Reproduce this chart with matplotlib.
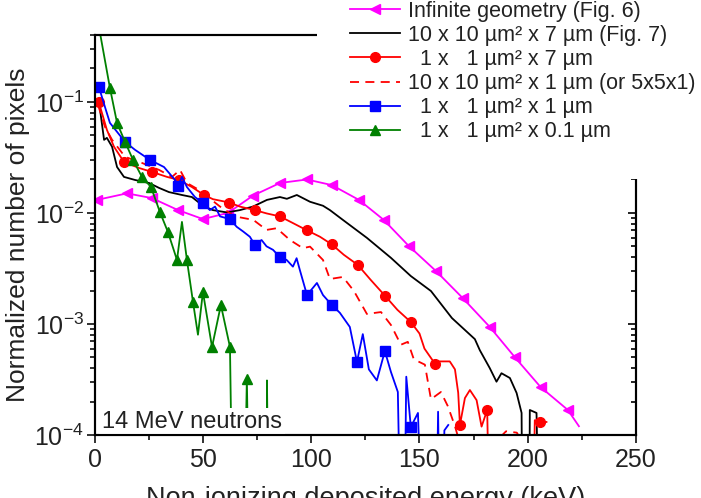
import matplotlib
matplotlib.use("Agg")
import matplotlib.pyplot as plt
from matplotlib.patches import Rectangle

plt.rcParams["font.family"] = ["Liberation Sans", "DejaVu Sans"]
plt.rcParams["mathtext.fontset"] = "custom"
plt.rcParams["mathtext.rm"] = "Liberation Sans"

# -------------------------
# Infinite geometry (Fig. 6)
# -------------------------
mag_x = [0.9, 14.8, 26.3, 38.4, 49.9, 61.5, 73.0, 85.5, 98.0, 109.5, 122.0,
         133.5, 145.0, 157.6, 170.0, 182.5, 194.0, 206.0, 218.6, 223.7]
mag_y = [0.0131, 0.0150, 0.0136, 0.0106, 0.0088, 0.0100, 0.0143, 0.0186,
         0.0200, 0.0178, 0.0131, 0.00865, 0.00505, 0.00300, 0.00171,
         0.00094, 0.000504, 0.00027, 0.000168, 0.000120]
mag_mk = mag_x[:-1]

# -------------------------
# 10 x 10 um2 x 7 um (Fig. 7)
# -------------------------
blk_x = [1.8, 4.2, 5.5, 7.9, 10.2, 13.4, 18.5, 25.0, 29.6, 34.2, 40.2, 44.8,
         49.9, 54.5, 61.0, 67.0, 73.0, 79.5, 85.5, 88.7, 93.3, 99.4, 105.4,
         108.6, 114.6, 125.7, 136.8, 146.0, 155.3, 165.0, 175.6, 177.9, 182.5,
         185.6, 187.9, 191.8, 194.9, 197.2, 198.0, 200.5, 201.0, 204.1, 206.4]
blk_y = [0.102, 0.0455, 0.0474, 0.0394, 0.0259, 0.0211, 0.0198, 0.0186,
         0.0168, 0.0154, 0.0145, 0.0139, 0.0116, 0.0106, 0.0101, 0.0106,
         0.0114, 0.0131, 0.0139, 0.0134, 0.0145, 0.0126, 0.0116, 0.0106,
         0.00865, 0.00596, 0.00394, 0.0027, 0.00198, 0.00113, 0.00073,
         0.00058, 0.00040, 0.000302, 0.00036, 0.000326, 0.000239, 0.000158,
         1e-6, 1e-6, 0.000168, 0.000158, 1e-6]

# -------------------------
# 1 x 1 um2 x 7 um
# -------------------------
red_x = [1.7, 3.2, 5.5, 8.8, 13.4, 20.3, 26.3, 33.3, 38.8, 44.8, 50.4, 54.5,
         62.1, 67.0, 73.9, 79.3, 85.5, 91.5, 97.8, 104.0, 109.5, 115.0, 121.5,
         127.4, 134.0, 139.8, 146.0, 150.0, 152.3, 157.1, 159.4, 164.0, 166.4,
         167.9, 168.7, 171.0, 173.3, 176.4, 178.7, 181.3, 183.5, 201.5, 203.3,
         205.6, 208.7]
red_y = [0.1006, 0.0796, 0.056, 0.0394, 0.0288, 0.0254, 0.0234, 0.0211,
         0.0198, 0.0171, 0.0145, 0.0133, 0.0124, 0.0114, 0.0106, 0.0099,
         0.0093, 0.0081, 0.0070, 0.0061, 0.0052, 0.0042, 0.0034, 0.0025,
         0.0018, 0.00134, 0.00104, 0.00082, 0.00060, 0.00044, 0.00046,
         0.00046, 0.00039, 0.00024, 0.000123, 0.000215, 0.000254, 0.000206,
         0.000119, 0.000168, 1e-6, 1e-6, 0.000136, 0.000131, 0.000131]
red_mk = [1.7, 13.4, 26.3, 38.8, 50.4, 62.1, 73.9, 85.5, 97.8, 109.5, 121.5,
          134.0, 146.0, 157.1, 168.7, 181.3, 205.6]

# -------------------------
# 10 x 10 um2 x 1 um (dashed)
# -------------------------
dsh_x = [1.4, 4.6, 7.9, 13.9, 21.7, 29.6, 35.6, 39.3, 42.5, 48.1, 57.8, 64.7,
         73.2, 79.3, 84.0, 90.1, 96.1, 99.4, 105.4, 108.6, 114.6, 119.7, 125.7,
         132.2, 136.8, 141.4, 144.6, 147.4, 152.5, 155.3, 159.9, 163.1, 166.4,
         169.0, 186.0, 190.0, 195.0, 197.0]
dsh_y = [0.094, 0.0596, 0.0455, 0.0320, 0.0282, 0.0244, 0.0211, 0.0244,
         0.0186, 0.0161, 0.0114, 0.0093, 0.00865, 0.00703, 0.00728, 0.00571,
         0.00481, 0.00497, 0.00377, 0.00254, 0.00265, 0.00198, 0.00123,
         0.00128, 0.00098, 0.00065, 0.00069, 0.00048, 0.00043, 0.00021,
         0.000244, 0.000182, 0.00012, 0.00008, 0.00009, 0.000108, 0.000105,
         0.00009]

# -------------------------
# 1 x 1 um2 x 1 um
# -------------------------
blu_x = [1.8, 4.6, 6.9, 10.2, 13.9, 18.5, 25.4, 31.9, 37.0, 38.4, 40.2, 42.5,
         46.2, 49.9, 53.1, 55.5, 57.8, 62.4, 65.5, 68.5, 71.6, 73.9, 77.0,
         79.3, 82.3, 85.5, 88.6, 91.5, 93.2, 94.7, 98.0, 102.6, 105.4, 109.5,
         113.2, 117.8, 121.1, 123.8, 126.6, 130.3, 134.0, 136.8, 140.0, 142.3,
         143.9, 146.0, 149.3, 153.0, 157.0, 158.6, 160.2, 161.5, 163.3]
blu_y = [0.1365, 0.0901, 0.0647, 0.0537, 0.0436, 0.0370, 0.0300, 0.0259,
         0.0198, 0.0175, 0.0211, 0.0171, 0.0139, 0.0123, 0.0106, 0.0114,
         0.0093, 0.0088, 0.0075, 0.0068, 0.0061, 0.00515, 0.0057, 0.0050,
         0.00465, 0.0040, 0.00377, 0.00328, 0.00391, 0.00306, 0.00182,
         0.00234, 0.00182, 0.00148, 0.00126, 0.00094, 0.000455, 0.00081,
         0.00039, 0.00031, 0.00057, 0.00037, 0.000244, 1e-6, 0.000335,
         0.000118, 0.000158, 1e-6, 1e-6, 0.000162, 1e-6, 0.00011, 0.000123]
blu_mk = [1.8, 13.9, 25.4, 38.4, 49.9, 62.4, 73.9, 85.5, 98.0, 109.5, 121.1,
          134.0, 146.0]

# -------------------------
# 1 x 1 um2 x 0.1 um
# -------------------------
grn_x = [2.3, 6.9, 10.2, 13.9, 17.6, 21.7, 25.9, 30.0, 33.7, 37.9, 40.2, 42.5,
         45.3, 47.6, 49.9, 54.1, 58.2, 62.4, 66.0, 70.2, 74.0, 79.0, 79.5, 82.0]
grn_y = [0.42, 0.1337, 0.0647, 0.0436, 0.030, 0.0211, 0.0171, 0.0102,
         0.00675, 0.00377, 0.0083, 0.00377, 0.00158, 0.00080, 0.00194,
         0.00062, 0.00148, 0.00062, 1e-8, 0.00032, 1e-8, 1e-8, 0.00031, 1e-8]
grn_mk = [6.9, 10.2, 13.9, 17.6, 21.7, 25.9, 30.0, 33.7, 37.9, 42.5, 45.3,
          49.9, 54.1, 58.2, 62.4, 70.2]

labels = [
    "Infinite geometry (Fig. 6)",
    "10 x 10 \u00b5m\u00b2 x 7 \u00b5m (Fig. 7)",
    "  1 x   1 \u00b5m\u00b2 x 7 \u00b5m",
    "10 x 10 \u00b5m\u00b2 x 1 \u00b5m (or 5x5x1)",
    "  1 x   1 \u00b5m\u00b2 x 1 \u00b5m",
    "  1 x   1 \u00b5m\u00b2 x 0.1 \u00b5m",
]


def idx(xs, marks):
    return [xs.index(v) for v in marks]


fig = plt.figure(figsize=(7.01, 4.98), dpi=100)
ax = fig.add_axes([0.1355, 0.1265, 0.7715, 0.8032])

lw = 1.3
h1, = ax.plot(mag_x, mag_y, color="#ff00ff", lw=lw, marker="<", ms=7,
              markevery=idx(mag_x, mag_mk), label=labels[0])
h2, = ax.plot(blk_x, blk_y, color="black", lw=lw, label=labels[1])
h3, = ax.plot(red_x, red_y, color="#ff0000", lw=lw, marker="o", ms=7,
              markevery=idx(red_x, red_mk), label=labels[2])
h4, = ax.plot(dsh_x, dsh_y, color="#ff0000", lw=lw, ls=(0, (5, 3.5)),
              label=labels[3])
h5, = ax.plot(blu_x, blu_y, color="#0000ff", lw=lw, marker="s", ms=6.5,
              markevery=idx(blu_x, blu_mk), label=labels[4])
h6, = ax.plot(grn_x, grn_y, color="#008000", lw=lw, marker="^", ms=7,
              markevery=idx(grn_x, grn_mk), label=labels[5])

ax.set_yscale("log")
ax.set_xlim(0, 250)
ax.set_ylim(1e-4, 0.4)
ax.set_xticks([0, 50, 100, 150, 200, 250])
ax.set_xticks([25, 75, 125, 175, 225], minor=True)

for s in ax.spines.values():
    s.set_linewidth(1.5)
ax.tick_params(which="both", direction="out", width=1.3, labelsize=18,
               colors="#222222")
ax.tick_params(which="major", length=6)
ax.tick_params(which="minor", length=3.5)
ax.tick_params(axis="y", pad=2)

ax2 = ax.twinx()
ax2.set_yscale("log")
ax2.set_ylim(1e-4, 0.4)
ax2.tick_params(which="both", direction="in", width=1.2, labelright=False)
ax2.tick_params(which="major", length=6)
ax2.tick_params(which="minor", length=3.5)
for s in ax2.spines.values():
    s.set_linewidth(1.5)

ax.set_xlabel("Non-ionizing deposited energy (keV)", fontsize=19.5,
              color="#222222", labelpad=10)
ax.set_ylabel("Normalized number of pixels", fontsize=19,
              color="#222222", labelpad=3)

ax.text(0.013, 0.018, "14 MeV neutrons", transform=ax.transAxes,
        fontsize=17, color="#222222", va="baseline", zorder=6,
        bbox=dict(facecolor="white", edgecolor="none", pad=2))

# white legend box hiding the upper-right part of the frame
fig.add_artist(Rectangle((317 / 701, 1 - 179 / 498), 1, 1,
                         transform=fig.transFigure, facecolor="white",
                         edgecolor="none", zorder=1))

fig.legend(handles=[h1, h2, h3, h4, h5, h6], loc="upper left",
           bbox_to_anchor=(350 / 701, 0.998), frameon=False, fontsize=15.5,
           borderpad=0, borderaxespad=0, handlelength=2.3,
           handletextpad=0.4, labelspacing=0.14, labelcolor="#222222")

fig.savefig("out.png", dpi=100)
